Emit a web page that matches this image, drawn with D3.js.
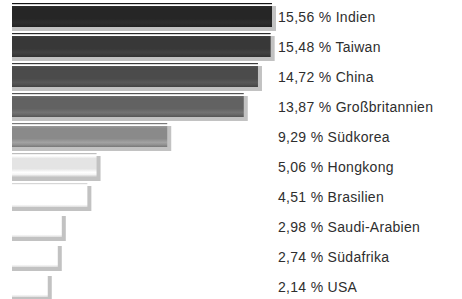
<!DOCTYPE html>
<html>
<head>
<meta charset="utf-8">
<script src="https://cdn.jsdelivr.net/npm/d3@7"></script>
<style>
  body { margin: 0; background: #fff; }
  text { font-family: "Liberation Sans", Arial, sans-serif; }
</style>
</head>
<body>
<div id="app"></div>
<script>
const countries = ['Indien', 'Taiwan', 'China', 'Großbritannien', 'Südkorea', 'Hongkong', 'Brasilien', 'Saudi-Arabien', 'Südafrika', 'USA']
const shares = [15.56, 15.48, 14.72, 13.87, 9.29, 5.06, 4.51, 2.98, 2.74, 2.14]
const barColors = ['#262626', '#383838', '#4b4b4b', '#626262', '#8a8a8a', '#e4e4e4', '#ffffff', '#ffffff', '#ffffff', '#ffffff']
const lineColors = ['#151515', '#2c2c2c', '#3c3c3c', '#555555', '#7a7a7a', '#bdbdbd', '#d6d6d6', '#ffffff', '#ffffff', '#ffffff']

const data = countries.map((c, i) => ({country: c, value: shares[i], i: i}))

const width = 462, height = 299
const left = 12
const rowH = 30

const x = d3.scaleLinear().domain([0, 15.56]).range([0, 260])
const y = d3.scaleBand().domain(countries).range([0, rowH * countries.length])
const fill = d3.scaleOrdinal().domain(countries).range(barColors)
const lineFill = d3.scaleOrdinal().domain(countries).range(lineColors)

const svg = d3.select('#app').append('svg')
    .attr('width', width)
    .attr('height', height)

const defs = svg.append('defs')
data.forEach(d => {
    const c = d3.color(fill(d.country))
    const g = defs.append('linearGradient')
        .attr('id', 'grad' + d.i)
        .attr('x1', 0).attr('y1', 0).attr('x2', 0).attr('y2', 1)
    const stops = [
        [0, c.brighter(0.3)],
        [0.12, c],
        [0.6, c],
        [0.78, c.brighter(0.45)],
        [0.88, c.brighter(0.2)],
        [1, c.darker(0.4)]
    ]
    stops.forEach(s => g.append('stop').attr('offset', s[0]).attr('stop-color', s[1].formatHex()))
})

const rows = svg.selectAll('g.row')
    .data(data).enter()
    .append('g')
    .attr('class', 'row')
    .attr('transform', d => `translate(0,${y(d.country)})`)

// shadow
rows.append('rect')
    .attr('x', left)
    .attr('y', 6)
    .attr('width', d => x(d.value) + 4)
    .attr('height', 25)
    .attr('fill', '#c2c2c2')

// thin top line
rows.append('rect')
    .attr('x', left)
    .attr('y', 3)
    .attr('width', d => x(d.value))
    .attr('height', 1.2)
    .attr('fill', d => lineFill(d.country))

// bar
rows.append('rect')
    .attr('x', left)
    .attr('y', 6)
    .attr('width', d => x(d.value))
    .attr('height', 21)
    .attr('fill', d => `url(#grad${d.i})`)

rows.append('text')
    .attr('x', 278)
    .attr('y', 22)
    .attr('font-size', 14)
    .attr('letter-spacing', 0.3)
    .attr('fill', '#2e2e2e')
    .text(d => d3.format('.2f')(d.value).replace('.', ',') + ' % ' + d.country)
</script>
</body>
</html>
